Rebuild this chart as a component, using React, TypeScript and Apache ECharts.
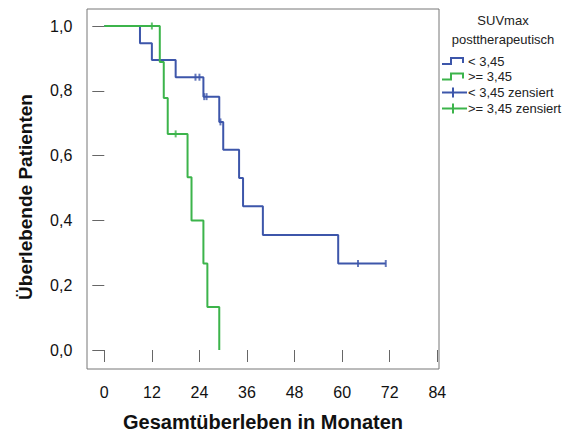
import React, { useEffect, useRef } from "react";
import * as echarts from "echarts";

// Kaplan-Meier steps [month, survival]
const lowSteps: [number, number][] = [
  [0, 1.0], [9, 0.947], [12, 0.895], [18, 0.842], [25, 0.782], [29, 0.704],
  [30, 0.618], [34, 0.531], [35, 0.444], [40, 0.355], [59, 0.267], [71, 0.267],
];
const highSteps: [number, number][] = [
  [0, 1.0], [14, 0.889], [15, 0.778], [16, 0.667], [21, 0.533], [22, 0.4],
  [25, 0.267], [26, 0.133], [29, 0.0],
];
const lowCensored: [number, number][] = [
  [23, 0.842], [24, 0.842], [25.2, 0.782], [25.8, 0.782], [29.3, 0.704], [64, 0.267], [71, 0.267],
];
const highCensored: [number, number][] = [
  [12, 1.0], [18, 0.667],
];
const xTicks = [0, 12, 24, 36, 48, 60, 72, 84];
const yTicks = [0, 0.2, 0.4, 0.6, 0.8, 1.0];
const legendTitle = ["SUVmax", "posttherapeutisch"];
const legendItems = ["< 3,45", ">= 3,45", "< 3,45 zensiert", ">= 3,45 zensiert"];
const xTitle = "Gesamtüberleben in Monaten";
const yTitle = "Überlebende Patienten";

const BLUE = "#3d56aa";
const GREEN = "#3cb44b";
const FONT = "'Liberation Sans', Arial, sans-serif";

export default function App() {
  const ref = useRef<HTMLDivElement>(null);
  useEffect(() => {
    document.body.style.margin = "0";
    const chart = echarts.init(ref.current!, undefined, { renderer: "svg" });
    const rowY = [61, 76.5, 92.5, 108.5];
    const iconX = 442;
    const legendGraphics: any[] = [];
    legendGraphics.push({
      type: "text", x: 503, y: 20,
      style: { text: legendTitle[0], align: "center", verticalAlign: "middle", font: `13px ${FONT}`, fill: "#222" },
    });
    legendGraphics.push({
      type: "text", x: 503, y: 39,
      style: { text: legendTitle[1], align: "center", verticalAlign: "middle", font: `13px ${FONT}`, fill: "#222" },
    });
    [BLUE, GREEN].forEach((c, i) => {
      const y = rowY[i];
      legendGraphics.push({
        type: "polyline",
        shape: { points: [[iconX, y + 3], [iconX + 9, y + 3], [iconX + 9, y - 3], [iconX + 21, y - 3], [iconX + 21, y + 2]] },
        style: { stroke: c, lineWidth: 2, fill: null },
      });
    });
    [BLUE, GREEN].forEach((c, i) => {
      const y = rowY[i + 2];
      legendGraphics.push({ type: "line", shape: { x1: iconX, y1: y, x2: iconX + 25, y2: y }, style: { stroke: c, lineWidth: 2 } });
      legendGraphics.push({ type: "line", shape: { x1: iconX + 11, y1: y - 5, x2: iconX + 11, y2: y + 5 }, style: { stroke: c, lineWidth: 2 } });
    });
    legendItems.forEach((t, i) => {
      legendGraphics.push({
        type: "text", x: 468, y: rowY[i],
        style: { text: t, align: "left", verticalAlign: "middle", font: `13px ${FONT}`, fill: "#222" },
      });
    });

    const option: any = {
      animation: false,
      backgroundColor: "#fff",
      grid: { left: 104.3, right: 147.7, top: 26, bottom: 87, containLabel: false },
      xAxis: {
        type: "value", min: 0, max: 84, interval: 12, offset: 19,
        axisLine: { show: false },
        axisTick: { show: true, length: 12, lineStyle: { color: "#666", width: 1 } },
        axisLabel: { margin: 15, fontSize: 16, color: "#111", fontFamily: FONT },
        splitLine: { show: false },
      },
      yAxis: {
        type: "value", min: 0, max: 1, interval: 0.2, offset: 17,
        axisLine: { show: false },
        axisTick: { show: true, length: 12, lineStyle: { color: "#666", width: 1 } },
        axisLabel: {
          margin: 15, fontSize: 16, color: "#111", fontFamily: FONT,
          formatter: (v: number) => v.toFixed(1).replace(".", ","),
        },
        splitLine: { show: false },
      },
      graphic: [
        { type: "rect", shape: { x: 87, y: 9, width: 352, height: 360 }, style: { stroke: "#777", lineWidth: 1, fill: null }, z: 0 },
        {
          type: "text", x: 263, y: 422,
          style: { text: xTitle, align: "center", verticalAlign: "middle", font: `bold 20px ${FONT}`, fill: "#111" },
        },
        {
          type: "text", x: 25, y: 197, rotation: Math.PI / 2,
          style: { text: yTitle, align: "center", verticalAlign: "middle", font: `bold 19px ${FONT}`, fill: "#111" },
        },
        ...legendGraphics,
      ],
      series: [
        {
          type: "line", step: "end", data: lowSteps, showSymbol: false, clip: false,
          lineStyle: { color: BLUE, width: 2 }, itemStyle: { color: BLUE }, z: 3,
        },
        {
          type: "line", step: "end", data: highSteps, showSymbol: false, clip: false,
          lineStyle: { color: GREEN, width: 2 }, itemStyle: { color: GREEN }, z: 4,
        },
        {
          type: "scatter", data: lowCensored, symbol: "rect", symbolSize: [2, 7], clip: false,
          itemStyle: { color: BLUE }, z: 5,
        },
        {
          type: "scatter", data: highCensored, symbol: "rect", symbolSize: [2, 7], clip: false,
          itemStyle: { color: GREEN }, z: 5,
        },
      ],
    };
    chart.setOption(option);
    return () => chart.dispose();
  }, []);
  return <div ref={ref} style={{ position: "absolute", left: 0, top: 0, width: 585, height: 437 }} />;
}
